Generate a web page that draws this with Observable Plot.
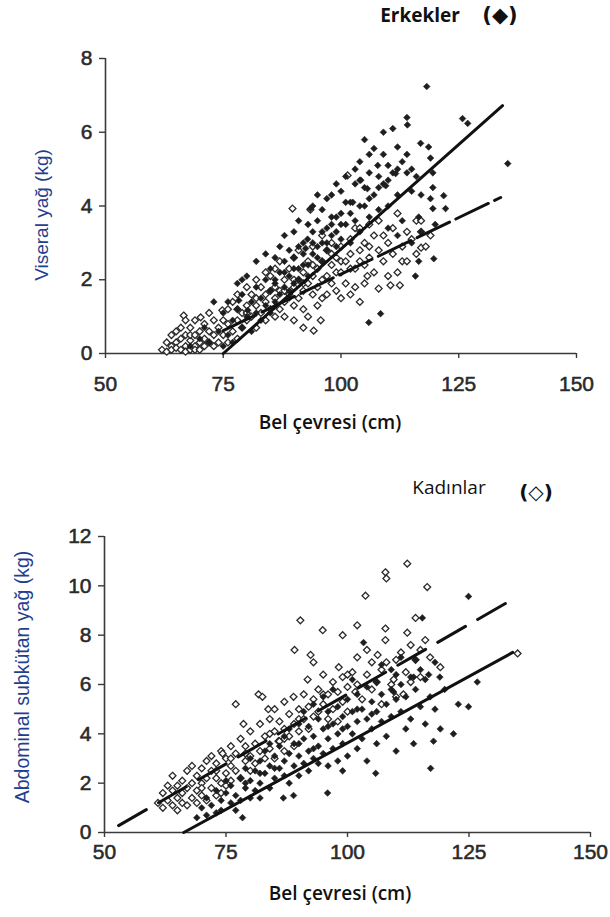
<!DOCTYPE html>
<html>
<head>
<meta charset="utf-8">
<script src="https://cdn.jsdelivr.net/npm/d3@7"></script>
<script src="https://cdn.jsdelivr.net/npm/@observablehq/plot@0.6"></script>
<style>
  html, body { margin: 0; padding: 0; background: #fff; }
  #page { position: relative; width: 610px; height: 917px; overflow: hidden; background: #fff; }
  .abs { position: absolute; white-space: nowrap; transform: translate(-50%, -50%); }
  .ttl { font-family: "Open Sans", "Noto Sans", sans-serif; color: #111; }
  .ylab { font-family: "Liberation Sans", Arial, sans-serif; color: #1f3f8f; font-size: 19px; transform: translate(-50%, -50%) rotate(-90deg); }
  .sym { font-family: "DejaVu Sans", sans-serif; color: #111; }
  svg { position: absolute; left: 0; }
  svg [aria-label$="tick label"] { stroke: #2a2a2a; stroke-width: 0.55px; }
</style>
</head>
<body>
<div id="page"></div>
<script>
const xTicks = [50, 75, 100, 125, 150];
const yTicksTop = [0, 2, 4, 6, 8];
const yTicksBottom = [0, 2, 4, 6, 8, 10, 12];

// Top panel: visceral fat (kg) vs waist (cm) — men (filled)
const menVisceral = [
[68,0.2],[70,0.4],[71,0.7],[72,0.3],[73,1.4],[74,0.6],[75,0.2],[75,1.1],[76,0.5],[76,1.4],[77,0.9],[77,0.3],[78,1.2],[78,1.9],[78.3,1.44],[79,0.7],[79,1.6],[79,2.0],[80,1.0],[80,2.1],[80.2,1.17],[81,1.4],[81,0.6],[82,1.8],[82,1.1],[82,2.5],[83,1.5],[83,0.9],[84,2.0],[84,1.3],[84,2.7],[85,1.7],[85,2.3],[85,1.1],
[86,1.9],[86,2.6],[86,1.4],[86,2.0],[87,2.2],[87,2.9],[87,1.6],[88,1.8],[88,2.5],[88,3.2],[88,2.2],[89,2.1],[89,2.8],[89,1.7],[89,1.5],[90,2.6],[90,1.9],[90,3.3],[90,2.3],[91,2.9],[91,2.3],[91,3.6],[91,2.0],[92,2.4],[92,3.0],[92,2.7],[92.5,2.85],[92.9,3.1],[93,3.5],[93.5,3.93],[93,2.1],[93,2.4],[94,3.3],[94,2.7],[94,4.0],[94,3.0],[95,3.6],[95,2.9],[95,4.3],[95,2.6],[96,3.0],[96,3.9],[96,2.5],[96,3.3],[97,3.4],[97,4.2],[97,2.8],[97,3.0],[98,4.3],[98,3.2],[98,3.7],[98,3.5],[99,3.7],[99,2.9],[99,4.6],[99,3.3],[100,3.8],[100,4.4],[100,3.1],[100,3.5],[101,4.8],[101,3.5],[101,4.1],[102,4.1],[102,3.0],[102,3.8],[102.5,4.1],[103,4.6],[103,3.6],[103,5.0],[104,4.7],[104,5.2],[104.2,4.7],[104,3.3],[104,4.0],[105,4.0],[105,5.8],[105,4.5],[105.6,4.47],[105.9,0.84],[106,4.9],[106,3.7],[106,5.4],[106,4.2],[107,5.56],[107,4.3],[107.8,5.1],[108,3.9],[108.4,1.08],[108,4.8],[108,4.5],[109,6.0],[109,5.4],[109,4.6],[109.5,4.55],[110,5.1],[110,4.0],[110,3.4],[110,4.7],[111,6.1],[111,4.9],[111.6,4.88],[112,5.6],[112,4.3],[112,3.2],[112,5.0],[113,3.6],[113,5.2],[114,6.4],[114.1,6.2],[114,5.4],[114,4.9],[115,3.0],[115,4.4],[115,5.0],[115.8,2.1],[116,4.8],[116.5,3.7],[116.5,2.5],[116.9,5.7],[117,3.3],[117,4.3],[118.2,7.24],[118.6,5.6],[119,5.3],[119.5,4.9],[119.5,4.5],[119,4.2],[119.5,3.93],[119.7,2.57],[120,3.5],[121.8,4.28],[122.2,3.93],[125.8,6.37],[126.9,6.24],[135.4,5.15]
];
// Top panel — women (open)
const womenVisceral = [
[62,0.1],[63,0.3],[63,0.05],[64,0.2],[64,0.5],[64,0.1],[65,0.3],[65,0.6],[65,0.15],[66,0.1],[66,0.4],[66,0.7],[66.6,1.03],[67,0.2],[67,0.5],[67,0.9],[67,0.05],[68,0.1],[68,0.35],[68,0.7],[68,0.5],[69,0.2],[69,0.5],[69,0.9],[69,0.1],[70,0.1],[70,0.3],[70,0.6],[70.2,0.98],[71,0.4],[71,0.8],[71,0.2],[72,0.3],[72,0.6],[72,1.1],[73,0.2],[73,0.5],[73,0.9],[74,0.3],[74,0.7],[74.8,1.17],[75,0.5],[75,0.9],[76,0.8],[76,0.3],[76,1.2],[77,0.6],[77,1.4],[78,0.9],[78,0.4],[78,1.6],[78,1.2],[79,1.1],[79,0.7],[80,1.3],[80,0.9],[80,1.8],[80,1.1],[81,1.0],[81,1.6],[82,1.3],[82,0.7],[82,2.0],[82,1.5],[83,1.1],[83,1.8],[84,1.4],[84,0.9],[84,2.2],[84,1.6],[85,1.2],[85,1.7],[85,2.1],
[86,1.5],[86,1.0],[86,2.3],[86,1.8],[87,1.7],[87,1.2],[87,2.5],[88,1.4],[88,2.0],[88,1.0],[88,1.7],[89,1.6],[89,2.3],[89.7,3.93],[90,1.8],[90,1.3],[90,2.6],[90,0.9],[90,2.0],[91,2.0],[91,1.5],[91,2.8],[92,2.2],[92,1.7],[92,1.2],[92,0.7],[92,1.9],[93,1.9],[93,2.5],[93,1.0],[93.5,3.9],[94,1.6],[94,2.1],[94,2.9],[94,2.4],[94.2,0.62],[95,2.3],[95,1.8],[95,1.3],[95.7,0.9],[96,2.5],[96,1.5],[96,3.2],[96,2.0],[97,2.1],[97,2.8],[97,1.6],[98,1.9],[98,2.4],[98,3.0],[98,2.7],[99,2.6],[99,1.7],[99,2.2],[100,2.2],[100,2.9],[100,1.5],[100,2.5],[101,2.5],[101,1.9],[101.4,4.83],[102,2.7],[102,3.1],[102,1.6],[102,2.3],[103,2.3],[103,1.8],[103,3.4],[104,2.8],[104,3.4],[104,1.4],[104,2.5],[105,2.4],[105,3.0],[105,1.9],[105.6,2.1],[106,2.6],[106,3.5],[106,2.9],[107,3.2],[107,2.2],[108,2.8],[108,3.6],[108,1.76],[109,2.5],[109,3.2],[110,3.0],[110,2.1],[110.5,1.85],[111,2.7],[111,3.4],[112,2.2],[112,3.8],[112.5,1.85],[113,2.9],[113,2.5],[114,2.5],[114,3.3],[115,3.1],[116,2.7],[116,3.6],[117,3.3],[117,2.87],[118,2.9],[117,3.6],[119,3.2]
];
// Bottom panel: abdominal subcutaneous fat (kg) — women (open)
const womenSubcut = [
[61,1.2],[62,1.6],[62,1.0],[63,1.9],[63,1.3],[64,1.1],[64,1.7],[64,2.3],[65,1.4],[65,1.9],[65,0.9],[66,1.2],[66,2.1],[66,1.6],[67,2.5],[67,1.1],[67,1.8],[68,2.0],[68,1.4],[68,2.7],[69,1.7],[69,2.3],[69,1.2],[70,2.6],[70,1.5],[70,2.0],[70,1.8],[71,2.9],[71,1.3],[71,2.2],[72,1.8],[72,2.5],[72,3.1],[73,1.5],[73,2.2],[73,2.8],[73,2.5],[74,2.0],[74,3.3],[74,1.6],[74.3,3.2],[75,2.4],[75,3.0],[75,1.9],[76,2.7],[76,3.5],[76,2.1],[76,3.0],[77,5.2],[77,2.5],[77,3.2],[78,3.8],[78.6,4.4],[78,2.2],[79,2.9],[79,3.5],[79,3.2],[80,3.1],[80,4.1],[80,2.5],[81,3.6],[81,2.8],[81.7,5.6],[82,3.3],[82.5,5.5],[82,4.4],[83,3.0],[83,3.9],[83.7,5.0],[84,4.6],[84,3.4],[84,4.0],[85,4.1],[85,3.0],[85,5.0],[85.8,3.7],[86,3.7],[86,4.5],[87,4.2],[87,5.3],[87,3.3],[87,3.8],[88,4.8],[88,3.9],[88.9,5.5],[89,4.4],[89.1,7.4],[89,3.5],[90,5.0],[90,4.1],[90,4.6],[90.3,8.6],[91,4.6],[91,5.6],[91.8,6.2],[92,5.1],[92,4.2],[92.4,7.2],[93,6.9],[93,5.4],[93,4.7],[94,5.8],[94,4.9],[94.9,8.2],[95,5.2],[95,6.4],[95,5.6],[96,5.6],[96,4.6],[97,6.1],[97,5.0],[98,5.7],[98.2,6.7],[98,4.5],[99,8.0],[99,5.3],[99,6.3],[100,5.9],[100,4.9],[100,6.4],[101,6.5],[101.6,5.7],[102,8.4],[102,7.1],[102,6.0],[103,5.4],[103.7,9.6],[104,6.4],[104,7.4],[105,5.8],[105,6.9],[106,6.1],[106.2,7.2],[107,6.6],[107,5.2],[107.8,8.27],[107.8,7.8],[107.8,10.55],[108,10.3],[108,6.9],[109,6.0],[109.5,6.2],[110,7.0],[110,5.5],[111,7.3],[111.5,5.6],[112,6.5],[112.3,8.1],[112.3,10.9],[113,7.6],[113,6.1],[114,8.7],[114,7.0],[115,7.4],[115,6.3],[116,7.8],[116.4,9.95],[117,7.1],[119.1,6.7],[135,7.26]
];
// Bottom panel — men (filled)
const menSubcut = [
[69,0.6],[70,1.0],[71,0.7],[71,1.4],[72,1.1],[73,0.8],[73,1.7],[74,1.3],[74,0.9],[75,1.6],[75,2.1],[76,1.2],[76,1.9],[77,0.9],[77,1.5],[78,2.2],[78.4,0.6],[78,1.3],[79,1.8],[79,2.6],[79,2.0],[80,1.4],[80,2.1],[80,3.0],[81,1.7],[81,2.5],[82,2.0],[82,2.9],[82,1.4],[82,2.4],[83,2.4],[83,3.3],[84,1.8],[84,2.7],[84,3.6],[85,2.2],[85,3.1],[85,2.6],[86,2.6],[86,3.5],[86.8,1.4],[87,2.3],[87,3.9],[87,2.9],[88,3.2],[88,2.0],[88,4.2],[88.9,1.5],[89,2.7],[89,3.6],[90,3.1],[90,4.4],[90,2.3],[90,3.6],[91,3.8],[91,2.8],[91,4.9],[92,3.3],[92,4.3],[92,2.5],[93,3.0],[93,3.9],[93,5.2],[93,3.4],[94,3.5],[94,4.6],[94,2.8],[95,3.2],[95,4.2],[95,5.5],[95.9,1.6],[96,3.8],[96,2.7],[96,4.9],[96,4.3],[97,4.4],[97,3.4],[97,5.8],[98,4.0],[98,2.9],[98,5.1],[99,3.6],[99,4.7],[99,2.5],[99,4.2],[100,4.3],[100,3.1],[100,5.4],[101,4.0],[101,4.9],[101,6.2],[102,4.5],[102,5.6],[102,3.4],[102,5.0],[103,3.8],[103,5.0],[103.3,7.7],[104,4.6],[104,5.9],[104,2.9],[105,4.2],[105,5.3],[105,4.8],[105.8,2.4],[106,4.9],[106,6.1],[106,3.6],[107,4.5],[107,5.6],[107,6.8],[108,5.2],[108,3.9],[109,5.8],[109,4.7],[109,6.6],[109.5,5.7],[110,5.4],[110,6.4],[110,3.3],[111,4.9],[111,6.0],[111,7.1],[112,5.5],[112,4.2],[113,6.3],[113,4.6],[113.6,3.6],[113.6,6.3],[114,5.8],[114,7.0],[115,6.6],[115,5.1],[115.4,8.7],[116,6.2],[116,4.4],[116.7,6.4],[117,5.5],[117.1,2.6],[117.7,3.7],[118,6.9],[118,5.0],[119,6.3],[119.1,4.2],[120,5.8],[121.8,4.0],[122.8,5.2],[124.9,5.1],[124.9,9.57],[126.7,6.1]
];
// Regression lines [waist, fat]
const menVisceralLine = [[75, 0], [134.3, 6.72]];
const womenVisceralLine = [[75, 0.62], [133.9, 4.23]];
const womenSubcutLine = [[52.9, 0.28], [132.9, 9.33]];
const menSubcutLine = [[66.3, 0], [134, 7.3]];

const texts = {
  topTitle: "Erkekler", topSym: "(◆)",
  bottomTitle: "Kadınlar", bottomSym: "(◇)",
  xLabel: "Bel çevresi (cm)",
  yTop: "Viseral yağ (kg)",
  yBottom: "Abdominal subkütan yağ (kg)"
};

const page = document.getElementById("page");
const axisColor = "#3a3a3a";
const tickFont = "Liberation Sans, Arial, sans-serif";

function panel({height, top, mt, mb, ml, mr, yDomain, yTicks, xPad, men, women, menLine, womenLine, womenDash}) {
  const px = d => d[0], py = d => d[1];
  const chart = Plot.plot({
    width: 610, height, marginTop: mt, marginBottom: mb, marginLeft: ml, marginRight: mr,
    style: {fontFamily: tickFont, color: "#222", background: "transparent", overflow: "visible"},
    x: {domain: [50, 150]},
    y: {domain: yDomain},
    marks: [
      Plot.axisX({ticks: xTicks, tickSize: 5, tickPadding: xPad, fontSize: 21, label: null, stroke: axisColor, strokeWidth: 1.4, fill: "#2a2a2a"}),
      Plot.axisY({ticks: yTicks, tickSize: 6, tickPadding: 7, fontSize: 21, label: null, stroke: axisColor, strokeWidth: 1.4, fill: "#2a2a2a"}),
      Plot.ruleY([yDomain[0]], {stroke: axisColor, strokeWidth: 1.6}),
      Plot.ruleX([50], {stroke: axisColor, strokeWidth: 1.6}),
      Plot.dot(women, {x: px, y: py, symbol: "diamond2", r: 3.1, fill: "white", stroke: "#2a2a2a", strokeWidth: 1.3}),
      Plot.dot(men, {x: px, y: py, symbol: "diamond2", r: 3.0, fill: "#1e1e1e", stroke: "#1e1e1e", strokeWidth: 0.6}),
      Plot.line(womenLine, {x: px, y: py, stroke: "#111", strokeWidth: 3, strokeDasharray: womenDash || null}),
      Plot.line(menLine, {x: px, y: py, stroke: "#111", strokeWidth: 3})
    ]
  });
  chart.style.top = top + "px";
  page.appendChild(chart);
}

panel({height: 440, top: 0, mt: 58, mb: 87, ml: 105, mr: 34, yDomain: [0, 8], yTicks: yTicksTop, xPad: 18,
  men: menVisceral, women: womenVisceral, menLine: menVisceralLine, womenLine: womenVisceralLine, womenDash: "36,7"});
panel({height: 477, top: 440, mt: 96, mb: 85, ml: 104, mr: 20, yDomain: [0, 12], yTicks: yTicksBottom, xPad: 7,
  men: menSubcut, women: womenSubcut, menLine: menSubcutLine, womenLine: womenSubcutLine, womenDash: "32,14"});

function addText(txt, cls, x, y, extra) {
  const d = document.createElement("div");
  d.className = "abs " + cls;
  d.textContent = txt;
  d.style.left = x + "px";
  d.style.top = y + "px";
  if (extra) Object.assign(d.style, extra);
  page.appendChild(d);
}
addText(texts.topTitle, "ttl", 420, 15, {fontWeight: "700", fontSize: "19px"});
addText(texts.topSym, "sym", 500, 15, {fontWeight: "700", fontSize: "21px"});
addText(texts.xLabel, "ttl", 330, 422, {fontWeight: "600", fontSize: "19px"});
addText(texts.yTop, "ylab", 42, 215, {fontSize: "19px"});
addText(texts.bottomTitle, "ttl", 449, 487, {fontWeight: "500", fontSize: "19px"});
addText(texts.bottomSym, "sym", 536, 492, {fontWeight: "700", fontSize: "20px"});
addText(texts.xLabel, "ttl", 340, 893, {fontWeight: "600", fontSize: "19px"});
addText(texts.yBottom, "ylab", 22, 677, {fontSize: "19.5px"});
</script>
</body>
</html>
